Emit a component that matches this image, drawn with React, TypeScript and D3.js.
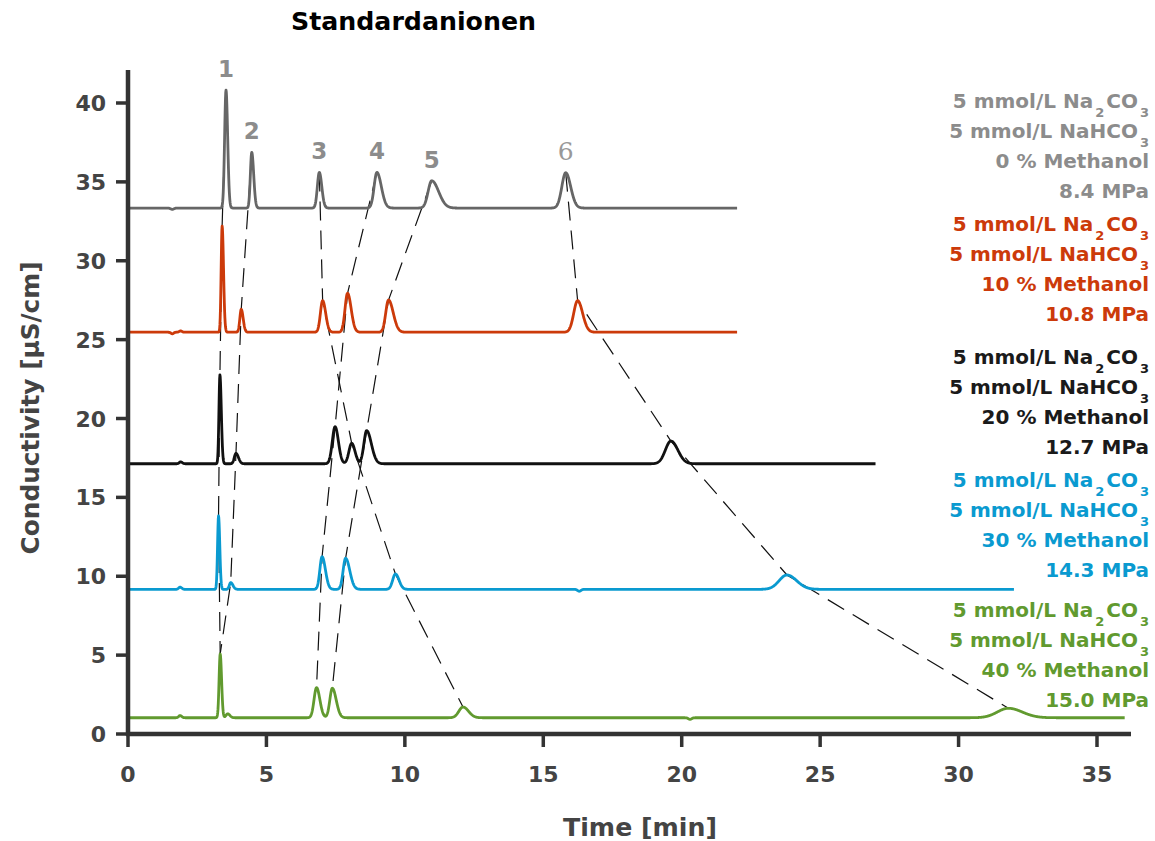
import React from "react";
import * as d3 from "d3";

// ---------- data ----------
const TITLE = "Standardanionen";
const X_LABEL = "Time [min]";
const Y_LABEL = "Conductivity [µS/cm]";
const X_TICKS = [0, 5, 10, 15, 20, 25, 30, 35];
const Y_TICKS = [0, 5, 10, 15, 20, 25, 30, 35, 40];

const METHANOL = ["0 % Methanol", "10 % Methanol", "20 % Methanol", "30 % Methanol", "40 % Methanol"];
const PRESSURE = ["8.4 MPa", "10.8 MPa", "12.7 MPa", "14.3 MPa", "15.0 MPa"];
const BASELINES = [33.34, 25.47, 17.13, 9.17, 1.03];
const RUN_END = [22, 22, 27, 32, 36];

// peaks: [retention time (min), height (µS/cm), sigma left, sigma right]
const PEAKS_0 = [[3.54, 7.48, 0.05, 0.06], [4.47, 3.53, 0.05, 0.07], [6.91, 2.26, 0.07, 0.09], [8.99, 2.26, 0.1, 0.16], [10.97, 1.73, 0.13, 0.25], [15.81, 2.24, 0.14, 0.18]];
const PEAKS_1 = [[3.4, 6.73, 0.035, 0.05], [4.09, 1.45, 0.05, 0.07], [7.03, 2.0, 0.08, 0.11], [7.93, 2.47, 0.09, 0.13], [9.41, 2.04, 0.1, 0.17], [16.24, 2.0, 0.14, 0.18]];
const PEAKS_2 = [[3.32, 5.63, 0.035, 0.05], [3.9, 0.66, 0.06, 0.09], [7.48, 2.35, 0.1, 0.12], [8.08, 1.3, 0.1, 0.12], [8.62, 2.1, 0.1, 0.17], [19.61, 1.44, 0.2, 0.25]];
const PEAKS_3 = [[3.27, 4.65, 0.035, 0.045], [3.71, 0.43, 0.05, 0.08], [7.01, 2.07, 0.08, 0.12], [7.86, 1.97, 0.09, 0.15], [9.66, 0.97, 0.1, 0.13], [23.8, 0.91, 0.28, 0.35]];
const PEAKS_4 = [[3.33, 4.04, 0.04, 0.05], [3.6, 0.25, 0.06, 0.08], [6.81, 1.91, 0.09, 0.12], [7.38, 1.87, 0.09, 0.14], [12.1, 0.68, 0.15, 0.2], [31.8, 0.6, 0.4, 0.5]];

// small baseline disturbances: [time, height, sigma left, sigma right]
const MINOR_0 = [[1.6, -0.08, 0.06, 0.06]];
const MINOR_1 = [[1.6, -0.1, 0.05, 0.05], [1.9, 0.08, 0.05, 0.05]];
const MINOR_2 = [[1.9, 0.12, 0.05, 0.06]];
const MINOR_3 = [[1.88, 0.14, 0.05, 0.06], [16.3, -0.12, 0.06, 0.06]];
const MINOR_4 = [[1.88, 0.14, 0.05, 0.06], [20.3, -0.1, 0.06, 0.06]];

const PEAKS = [PEAKS_0, PEAKS_1, PEAKS_2, PEAKS_3, PEAKS_4];
const MINORS = [MINOR_0, MINOR_1, MINOR_2, MINOR_3, MINOR_4];

// dashed connectors: peak id -> [trace index, peak index] per chromatogram
const PEAK_IDS = ["1", "2", "3", "4", "5", "6"];
const CHAINS = [
  [[0, 0], [1, 0], [2, 0], [3, 0], [4, 0]],
  [[0, 1], [1, 1], [2, 1], [3, 1], [4, 0]],
  [[0, 2], [1, 2], [2, 3], [3, 4], [4, 4]],
  [[0, 3], [1, 3], [2, 2], [3, 2], [4, 2]],
  [[0, 4], [1, 4], [2, 4], [3, 3], [4, 3]],
  [[0, 5], [1, 5], [2, 5], [3, 5], [4, 5]],
];

const TRACE_COLORS = ["#666666", "#cc3a0a", "#111111", "#0a9ad0", "#619a2f"];
const TEXT_COLORS = ["#8c8c8c", "#cc3a0a", "#1a1a1a", "#0a9ad0", "#619a2f"];

// ---------- layout ----------
const W = 1155;
const H = 841;
const FONT = "'DejaVu Sans', sans-serif";
const AXIS = "#333333";
const LABEL = "#444444";

const x = d3.scaleLinear().domain([0, 35]).range([128, 1097]);
const y = d3.scaleLinear().domain([0, 40]).range([734, 103]);

function peakAt(p: number[], t: number) {
  const [t0, h, sl, sr] = p;
  const s = t < t0 ? sl : sr;
  const z = (t - t0) / s;
  return h * Math.exp(-0.5 * z * z);
}

function signal(i: number, t: number) {
  let v = BASELINES[i];
  for (const p of PEAKS[i]) v += peakAt(p, t);
  for (const p of MINORS[i]) v += peakAt(p, t);
  return v;
}

function traceData(i: number) {
  const pts: [number, number][] = [];
  const n = Math.round(RUN_END[i] / 0.01);
  for (let k = 0; k <= n; k++) {
    const t = (k * RUN_END[i]) / n;
    pts.push([t, signal(i, t)]);
  }
  return pts;
}

const line = d3
  .line<[number, number]>()
  .x((d) => x(d[0]))
  .y((d) => y(d[1]));

const LEGEND_TOP = [108, 231, 364, 487, 617];
const LEGEND_STEP = 30;
const LEGEND_X = 1149;
const SUB_DY = 9;
const SUB_SIZE = 13;

function Legend({ i }: { i: number }) {
  const top = LEGEND_TOP[i];
  const c = TEXT_COLORS[i];
  const common = { x: LEGEND_X, textAnchor: "end" as const, fill: c, fontFamily: FONT, fontWeight: 700, fontSize: 20 };
  return (
    <g>
      <text {...common} y={top}>
        5 mmol/L Na
        <tspan dx={2} dy={SUB_DY} fontSize={SUB_SIZE}>2</tspan>
        <tspan dx={2} dy={-SUB_DY}>CO</tspan>
        <tspan dx={2} dy={SUB_DY} fontSize={SUB_SIZE}>3</tspan>
      </text>
      <text {...common} y={top + LEGEND_STEP}>
        5 mmol/L NaHCO
        <tspan dx={2} dy={SUB_DY} fontSize={SUB_SIZE}>3</tspan>
      </text>
      <text {...common} y={top + LEGEND_STEP * 2}>{METHANOL[i]}</text>
      <text {...common} y={top + LEGEND_STEP * 3}>{PRESSURE[i]}</text>
    </g>
  );
}

export default function App() {
  const traces = PEAKS.map((_, i) => traceData(i));
  const chainPaths = CHAINS.map((chain) =>
    line(chain.map(([ti, pi]) => {
      const t = PEAKS[ti][pi][0];
      return [t, signal(ti, t)] as [number, number];
    })) as string
  );
  const labelPeaks = PEAKS_0;

  return (
    <svg width={W} height={H} style={{ position: "absolute", left: 0, top: 0 }}>
      <rect x={0} y={0} width={W} height={H} fill="#ffffff" />
      <text x={413.5} y={30} textAnchor="middle" fontFamily={FONT} fontWeight={700} fontSize={24} fill="#000" textLength={245} lengthAdjust="spacingAndGlyphs">
        {TITLE}
      </text>

      {/* dashed connectors */}
      {chainPaths.map((d, k) => (
        <path key={k} d={d} fill="none" stroke="#111" strokeWidth={1.2} strokeDasharray="19 10" />
      ))}

      {/* chromatograms */}
      {traces.map((pts, i) => (
        <path key={i} d={line(pts) as string} fill="none" stroke={TRACE_COLORS[i]} strokeWidth={2.8} strokeLinejoin="round" />
      ))}

      {/* peak numbers */}
      {labelPeaks.map((p, k) => {
        const px = x(p[0]);
        const py = y(signal(0, p[0])) - 13;
        const serif = k === 5;
        return (
          <text key={k} x={px} y={py} textAnchor="middle" fontFamily={serif ? "'DejaVu Serif', serif" : FONT} fontWeight={serif ? 400 : 700} fontSize={serif ? 25 : 23} fill={serif ? "#999" : "#8c8c8c"}>
            {PEAK_IDS[k]}
          </text>
        );
      })}

      {/* axes */}
      <line x1={128} x2={128} y1={70} y2={736} stroke={AXIS} strokeWidth={4.5} />
      <line x1={126} x2={1131} y1={734} y2={734} stroke={AXIS} strokeWidth={4.5} />
      {Y_TICKS.map((v) => (
        <g key={"y" + v}>
          <line x1={116} x2={128} y1={y(v)} y2={y(v)} stroke={AXIS} strokeWidth={3.5} />
          <text x={106} y={y(v) + 8} textAnchor="end" fontFamily={FONT} fontWeight={700} fontSize={22} fill={LABEL}>
            {v}
          </text>
        </g>
      ))}
      {X_TICKS.map((v) => (
        <g key={"x" + v}>
          <line x1={x(v)} x2={x(v)} y1={734} y2={747} stroke={AXIS} strokeWidth={3.5} />
          <text x={x(v)} y={782} textAnchor="middle" fontFamily={FONT} fontWeight={700} fontSize={22} fill={LABEL}>
            {v}
          </text>
        </g>
      ))}
      <text x={640} y={836} textAnchor="middle" fontFamily={FONT} fontWeight={700} fontSize={25} fill={LABEL} textLength={154} lengthAdjust="spacingAndGlyphs">
        {X_LABEL}
      </text>
      <text transform="translate(39,408) rotate(-90)" textAnchor="middle" fontFamily={FONT} fontWeight={700} fontSize={25} fill={LABEL} textLength={293} lengthAdjust="spacingAndGlyphs">
        {Y_LABEL}
      </text>

      {/* legend */}
      {METHANOL.map((_, i) => (
        <Legend key={i} i={i} />
      ))}
    </svg>
  );
}
